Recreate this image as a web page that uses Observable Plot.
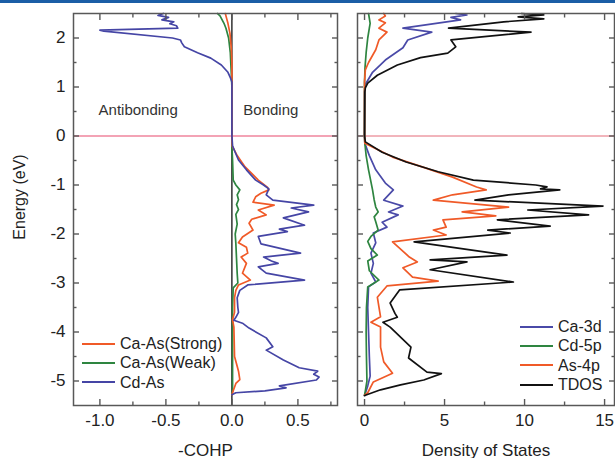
<!DOCTYPE html>
<html><head><meta charset="utf-8">
<script src="https://cdn.jsdelivr.net/npm/d3@7"></script>
<script src="https://cdn.jsdelivr.net/npm/@observablehq/plot@0.6"></script>
<style>
body{margin:0;background:#fff;}
#wrap{position:relative;width:615px;height:458px;overflow:hidden;font-family:"Liberation Sans",Arial,Helvetica,sans-serif;}
#bar{position:absolute;left:0;top:0;width:615px;height:3px;background:#1b5ea6;}
#left{position:absolute;left:0;top:0}
#right{position:absolute;left:345px;top:0}
.legend{position:absolute;font-size:16px;color:#222;line-height:19px;}
.legend .it{display:flex;align-items:center;height:19.3px;white-space:nowrap;}
.legend .ln{display:inline-block;width:33px;height:0;border-top:2px solid;margin-right:5px}
#ylab{position:absolute;left:-40px;top:187px;width:120px;height:20px;line-height:20px;text-align:center;font-size:16px;color:#222;transform:rotate(-90deg);white-space:nowrap;}
</style></head><body>
<div id="wrap"><div id="left"></div><div id="right"></div><div id="bar"></div>
<div id="ylab"></div>
<div class="legend" id="legL" style="left:82px;top:334px"></div>
<div class="legend" id="legR" style="left:520px;top:317px"></div></div>
<script>
// ---------- data (energy eV, value) ----------
const energyTicks = [2, 1, 0, -1, -2, -3, -4, -5];
const energyMinorTicks = [1.5, 0.5, -0.5, -1.5, -2.5, -3.5, -4.5];
const cohpTicks = [-1.0, -0.5, 0.0, 0.5];
const cohpMinorTicks = [-0.75, -0.25, 0.25, 0.75];
const dosTicks = [0, 5, 10, 15];
const dosMinorTicks = [2.5, 7.5, 12.5];

const energyLabel = "Energy (eV)";
const cohpLabel = "-COHP";
const dosLabel = "Density of States";
const cohpSeries = ["Ca-As(Strong)", "Ca-As(Weak)", "Cd-As"];
const dosSeries = ["Ca-3d", "Cd-5p", "As-4p", "TDOS"];

const caAsStrong = [[2.5,-0.05],[2.4,-0.04],[2.3,-0.03],[2.1,-0.015],[1.8,-0.005],[1.5,0],[0,0],[-0.2,0.002],[-0.4,0.04],[-0.63,0.1],[-0.9,0.2],[-1.05,0.27],[-1.1,0.28],[-1.17,0.22],[-1.24,0.18],[-1.35,0.16],[-1.41,0.32],[-1.51,0.2],[-1.61,0.26],[-1.7,0.15],[-1.78,0.13],[-1.92,0.16],[-2.06,0.08],[-2.18,0.05],[-2.27,0.11],[-2.39,0.12],[-2.47,0.07],[-2.6,0.11],[-2.8,0.08],[-2.94,0.14],[-3.04,0.05],[-3.15,0.03],[-3.3,0.02],[-3.6,0.02],[-3.75,0.005],[-3.9,0.015],[-4.5,0.02],[-4.7,0.04],[-4.8,0.05],[-4.97,0.06],[-5.05,0.03],[-5.2,0.01],[-5.28,0]];
const caAsWeak = [[2.5,-0.11],[2.45,-0.09],[2.4,-0.08],[2.3,-0.06],[2.2,-0.045],[2.0,-0.025],[1.7,-0.012],[1.3,-0.005],[1.0,0],[-0.2,0],[-0.5,0.005],[-0.9,0.01],[-1.0,0.03],[-1.1,0.06],[-1.2,0.04],[-1.3,0.05],[-1.4,0.035],[-1.5,0.05],[-1.6,0.03],[-1.8,0.04],[-2.0,0.025],[-2.2,0.03],[-2.5,0.035],[-2.8,0.04],[-3.0,0.045],[-3.1,0.01],[-3.5,0.005],[-5.2,0.005],[-5.28,0]];
const cdAs = [[2.5,-0.52],[2.46,-0.56],[2.42,-0.48],[2.37,-0.53],[2.33,-0.44],[2.29,-0.47],[2.25,-0.42],[2.2,-0.41],[2.16,-1.0],[2.14,-0.97],[2.0,-0.45],[1.96,-0.39],[1.9,-0.38],[1.82,-0.36],[1.7,-0.26],[1.59,-0.16],[1.45,-0.08],[1.3,-0.03],[1.18,-0.01],[1.1,0],[0,0],[-0.2,0.005],[-0.3,0.02],[-0.49,0.05],[-0.69,0.11],[-0.9,0.18],[-1.0,0.24],[-1.08,0.28],[-1.14,0.27],[-1.2,0.26],[-1.31,0.31],[-1.41,0.62],[-1.47,0.45],[-1.55,0.58],[-1.67,0.39],[-1.82,0.55],[-1.9,0.36],[-1.95,0.42],[-2.05,0.2],[-2.2,0.22],[-2.39,0.52],[-2.47,0.24],[-2.55,0.3],[-2.6,0.35],[-2.67,0.2],[-2.8,0.26],[-2.94,0.55],[-3.04,0.12],[-3.15,0.06],[-3.3,0.04],[-3.5,0.045],[-3.6,0.05],[-3.7,0.03],[-3.76,0.015],[-3.82,0.08],[-3.92,0.13],[-4.12,0.26],[-4.3,0.31],[-4.37,0.26],[-4.57,0.39],[-4.73,0.51],[-4.8,0.65],[-4.86,0.62],[-4.92,0.66],[-4.98,0.64],[-5.1,0.36],[-5.14,0.41],[-5.2,0.25],[-5.24,0.03],[-5.28,0]];

const ca3d = [[2.5,5.7],[2.47,6.4],[2.42,5.4],[2.37,6.0],[2.2,2.4],[2.12,4.2],[1.96,2.7],[1.8,2.4],[1.55,1.3],[1.3,0.5],[1.05,0.05],[0.9,0],[0,0],[-0.15,0.02],[-0.4,0.3],[-0.69,0.7],[-0.96,1.3],[-1.1,1.8],[-1.31,1.2],[-1.43,2.4],[-1.55,1.5],[-1.61,2.1],[-1.76,1.1],[-1.86,1.4],[-1.98,0.55],[-2.18,0.7],[-2.39,0.4],[-2.6,0.55],[-2.8,0.4],[-2.98,0.7],[-3.08,0.25],[-3.5,0.2],[-4.0,0.25],[-4.5,0.3],[-4.9,0.35],[-5.1,0.2],[-5.25,0.05],[-5.29,0]];
const cd5p = [[2.5,0.25],[2.4,0.3],[2.3,0.35],[2.2,0.3],[2.0,0.2],[1.7,0.1],[1.4,0.03],[1.1,0],[0,0],[-0.15,0.02],[-0.4,0.1],[-0.69,0.25],[-1.1,0.5],[-1.3,0.6],[-1.45,0.7],[-1.55,0.85],[-1.65,0.6],[-1.75,0.7],[-1.92,0.85],[-2.05,0.4],[-2.15,0.2],[-2.3,0.4],[-2.43,0.8],[-2.55,0.2],[-2.75,0.3],[-2.94,0.9],[-3.08,0.2],[-3.5,0.12],[-4.0,0.1],[-4.5,0.12],[-5.0,0.15],[-5.2,0.05],[-5.29,0]];
const as4p = [[2.5,1.2],[2.45,1.3],[2.37,0.9],[2.31,1.3],[2.2,0.9],[2.12,1.4],[1.96,0.9],[1.76,0.7],[1.5,0.25],[1.35,0.05],[1.1,0],[0,0],[-0.15,0.02],[-0.43,1.75],[-0.63,3.6],[-0.84,5.5],[-1.04,7.0],[-1.1,7.6],[-1.2,5.5],[-1.31,4.3],[-1.45,9.0],[-1.55,6.1],[-1.63,8.2],[-1.71,4.9],[-1.86,5.1],[-1.92,4.3],[-2.02,5.1],[-2.16,1.75],[-2.47,2.8],[-2.57,3.3],[-2.69,2.4],[-2.88,3.0],[-2.96,4.6],[-3.06,1.4],[-3.29,0.8],[-3.69,1.0],[-3.8,0.4],[-3.9,1.0],[-4.31,1.0],[-4.61,1.2],[-4.84,1.75],[-5.02,0.55],[-5.24,0.2],[-5.29,0]];
const tdos = [[2.5,9.8],[2.47,11.2],[2.43,9.6],[2.39,11.2],[2.33,8.7],[2.2,5.25],[2.12,10.4],[1.96,5.4],[1.82,5.7],[1.69,5.2],[1.6,3.5],[1.45,2.05],[1.24,0.8],[1.08,0.2],[0.98,0.05],[0.9,0.02],[0,0],[-0.12,0.05],[-0.33,1.1],[-0.53,2.6],[-0.73,4.6],[-0.9,6.8],[-1.0,10.7],[-1.04,11.4],[-1.08,11.0],[-1.1,12.2],[-1.2,9.0],[-1.31,6.9],[-1.43,14.9],[-1.51,10.2],[-1.61,14.0],[-1.71,8.3],[-1.84,11.6],[-1.92,7.7],[-1.98,9.1],[-2.16,3.1],[-2.43,8.9],[-2.53,4.1],[-2.57,6.4],[-2.73,4.1],[-2.98,9.3],[-3.14,2.2],[-3.41,1.6],[-3.62,1.9],[-3.7,2.05],[-3.8,1.15],[-3.9,1.6],[-4.31,2.9],[-4.53,2.75],[-4.82,3.9],[-4.85,4.8],[-4.98,3.7],[-5.08,2.25],[-5.18,1.0],[-5.29,0.05],[-5.3,0]];

const annotations = [{label: "Antibonding", x: -0.71, y: 0.53}, {label: "Bonding", x: 0.295, y: 0.53}];

// ---------- styles ----------
const FONT = '"Liberation Sans", Arial, Helvetica, sans-serif';
const frameColor = "#585858";
const cohpColors = ["#f05a28", "#2e8540", "#4545a5"];
const dosColors = ["#4a4aa8", "#2e8540", "#f05a28", "#111111"];

function tickAxes(xMajor, xMinor) {
  const t = {stroke: frameColor, strokeWidth: 1.4, text: null, label: null};
  const M = 6, m = 3.5;
  return [
    Plot.axisY(energyTicks, {...t, anchor: "left", tickSize: M, dx: M}),
    Plot.axisY(energyMinorTicks, {...t, anchor: "left", tickSize: m, dx: m}),
    Plot.axisY(energyTicks, {...t, anchor: "right", tickSize: M, dx: -M}),
    Plot.axisY(energyMinorTicks, {...t, anchor: "right", tickSize: m, dx: -m}),
    Plot.axisX(xMajor, {...t, anchor: "bottom", tickSize: M, dy: -M}),
    Plot.axisX(xMinor, {...t, anchor: "bottom", tickSize: m, dy: -m}),
    Plot.axisX(xMajor, {...t, anchor: "top", tickSize: M, dy: M}),
    Plot.axisX(xMinor, {...t, anchor: "top", tickSize: m, dy: m})
  ];
}
const lineOpts = c => ({x: d => d[1], y: d => d[0], stroke: c, strokeWidth: 1.7, strokeLinejoin: "round"});

const left = Plot.plot({
  width: 345, height: 458,
  marginLeft: 73, marginRight: 8, marginTop: 13, marginBottom: 53,
  style: {fontFamily: FONT, fontSize: "16px", color: "#222", background: "transparent"},
  x: {domain: [-1.2, 0.8]},
  y: {domain: [-5.5, 2.5]},
  marks: [
    Plot.ruleY([0], {stroke: "#f3a3b5", strokeWidth: 2}),
    Plot.ruleX([0], {stroke: "#111", strokeWidth: 1.3}),
    Plot.line(caAsWeak, lineOpts(cohpColors[1])),
    Plot.line(caAsStrong, lineOpts(cohpColors[0])),
    Plot.line(cdAs, lineOpts(cohpColors[2])),
    Plot.text(annotations, {x: "x", y: "y", text: "label", fontSize: 15, fill: "#333"}),
    Plot.frame({stroke: frameColor, strokeWidth: 1.5}),
    ...tickAxes(cohpTicks, cohpMinorTicks),
    Plot.axisY(energyTicks, {anchor: "left", tickSize: 0, tickPadding: 8, tickFormat: d => String(d),
      fontSize: 17, label: null}),
    Plot.axisX(cohpTicks, {anchor: "bottom", tickSize: 0, tickPadding: 8, tickFormat: d => d.toFixed(1),
      fontSize: 17, label: cohpLabel, labelAnchor: "center", labelArrow: "none", labelOffset: 50})
  ]
});
document.getElementById("left").appendChild(left);

const right = Plot.plot({
  width: 270, height: 458,
  marginLeft: 12, marginRight: 1, marginTop: 13, marginBottom: 53,
  style: {fontFamily: FONT, fontSize: "16px", color: "#222", background: "transparent"},
  x: {domain: [-0.44, 15.62]},
  y: {domain: [-5.5, 2.5]},
  marks: [
    Plot.ruleY([0], {stroke: "#e46a78", strokeWidth: 1}),
    Plot.line(ca3d, lineOpts(dosColors[0])),
    Plot.line(cd5p, lineOpts(dosColors[1])),
    Plot.line(as4p, lineOpts(dosColors[2])),
    Plot.line(tdos, lineOpts(dosColors[3])),
    Plot.frame({stroke: frameColor, strokeWidth: 1.5}),
    ...tickAxes(dosTicks, dosMinorTicks),
    Plot.axisX(dosTicks, {anchor: "bottom", tickSize: 0, tickPadding: 8, tickFormat: d => String(d),
      fontSize: 17, label: dosLabel, labelAnchor: "center", labelArrow: "none", labelOffset: 50})
  ]
});
document.getElementById("right").appendChild(right);

document.getElementById("ylab").textContent = energyLabel;

function legend(id, names, colors) {
  const el = document.getElementById(id);
  names.forEach((n, i) => {
    const it = document.createElement("div"); it.className = "it";
    const ln = document.createElement("span"); ln.className = "ln"; ln.style.borderColor = colors[i];
    const tx = document.createElement("span"); tx.textContent = n;
    it.appendChild(ln); it.appendChild(tx); el.appendChild(it);
  });
}
legend("legL", cohpSeries, cohpColors);
legend("legR", dosSeries, dosColors);
</script></body></html>
